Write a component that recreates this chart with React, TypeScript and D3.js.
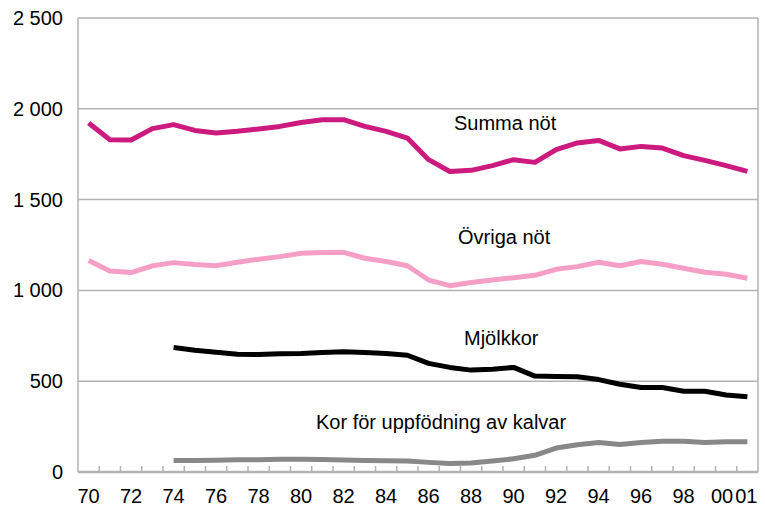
import React from "react";
import * as d3 from "d3";

// years 1970–2001
const years = d3.range(1970, 2002);
const tickYears = [1970, 1972, 1974, 1976, 1978, 1980, 1982, 1984, 1986, 1988, 1990, 1992, 1994, 1996, 1998, 2000, 2001];
const yTicks = [0, 500, 1000, 1500, 2000, 2500];

// Summa nöt, 1970–2001
const summaNot = [
  1922, 1830, 1828, 1891, 1913, 1881, 1867, 1876, 1889, 1903,
  1925, 1940, 1940, 1903, 1876, 1839, 1720, 1655, 1661, 1687,
  1720, 1705, 1775, 1812, 1826, 1779, 1793, 1784, 1742, 1716,
  1687, 1655,
];

// Övriga nöt, 1970–2001
const ovrigaNot = [
  1164, 1107, 1098, 1135, 1153, 1142, 1136, 1155, 1172, 1186,
  1205, 1209, 1209, 1177, 1159, 1136, 1057, 1026, 1043, 1057,
  1070, 1083, 1116, 1131, 1155, 1136, 1159, 1144, 1122, 1100,
  1089, 1067,
];

// Mjölkkor, 1974–2001
const mjolkkor = [
  686, 671, 660, 649, 647, 651, 653, 658, 662, 658,
  653, 643, 598, 576, 561, 566, 576, 528, 526, 524,
  509, 483, 465, 465, 445, 445, 424, 415,
];

// Kor för uppfödning av kalvar, 1974–2001
const korKalvar = [
  64, 63, 65, 67, 68, 70, 70, 69, 66, 64,
  62, 60, 53, 47, 49, 60, 73, 92, 132, 150,
  162, 152, 162, 169, 169, 162, 166, 166,
];

const W = 765;
const H = 506;
const left = 78;
const right = 758;
const top = 18;
const bottom = 472;
const font = "'Liberation Sans', Arial, Helvetica, sans-serif";

const App = () => {
  const x = d3.scaleBand<number>().domain(years).range([left, right]).padding(0);
  const cx = (yr: number) => (x(yr) as number) + x.bandwidth() / 2;
  const y = d3.scaleLinear().domain([0, 2500]).range([bottom, top]);

  const line = d3.line<[number, number]>()
    .x((d) => cx(d[0]))
    .y((d) => y(d[1]));

  const series = [
    { values: summaNot, start: 1970, color: "#cc1a7e" },
    { values: ovrigaNot, start: 1970, color: "#f59fc6" },
    { values: mjolkkor, start: 1974, color: "#000000" },
    { values: korKalvar, start: 1974, color: "#888888" },
  ];

  const labels = [
    { text: "Summa nöt", x: 454, y: 130 },
    { text: "Övriga nöt", x: 458, y: 244 },
    { text: "Mjölkkor", x: 464, y: 345 },
    { text: "Kor för uppfödning av kalvar", x: 316, y: 429 },
  ];

  const fmt = (v: number) => (v >= 1000 ? `${Math.floor(v / 1000)} ${String(v % 1000).padStart(3, "0")}` : String(v));

  // the last two labels sit close together, nudge them apart a little
  const labelShift = (yr: number) => (yr === 2000 ? -4 : yr === 2001 ? -1 : 0);

  return (
    <svg width={W} height={H} style={{ position: "absolute", left: 0, top: 0 }} fontFamily={font}>
      <rect width={W} height={H} fill="#fff" />

      {/* grid */}
      {yTicks.filter((t) => t > 0).map((t) => (
        <line key={t} x1={left} x2={right} y1={y(t)} y2={y(t)} stroke="#b3b3b3" strokeWidth={1.5} />
      ))}
      <line x1={left} x2={left} y1={top} y2={bottom} stroke="#b3b3b3" strokeWidth={1.5} />
      <line x1={right} x2={right} y1={top} y2={bottom} stroke="#b3b3b3" strokeWidth={1.5} />

      {/* x axis */}
      <line x1={left} x2={right} y1={bottom} y2={bottom} stroke="#b3b3b3" strokeWidth={2.5} />
      {years.slice(1).map((yr) => (
        <line key={yr} x1={x(yr)} x2={x(yr)} y1={bottom} y2={bottom - 6} stroke="#b3b3b3" strokeWidth={1.5} />
      ))}
      {tickYears.map((yr) => (
        <text key={yr} x={cx(yr) + labelShift(yr)} y={503} textAnchor="middle" fontSize={20} fill="#000">
          {String(yr % 100).padStart(2, "0")}
        </text>
      ))}

      {/* y axis labels */}
      {yTicks.map((t) => (
        <text key={t} x={63} y={y(t)} textAnchor="end" dominantBaseline="central" fontSize={20} fill="#000">
          {fmt(t)}
        </text>
      ))}

      {/* lines */}
      {series.map((s, i) => (
        <path
          key={i}
          d={line(s.values.map((v, j) => [s.start + j, v] as [number, number])) || ""}
          fill="none"
          stroke={s.color}
          strokeWidth={5}
          strokeLinejoin="round"
        />
      ))}

      {labels.map((l) => (
        <text key={l.text} x={l.x} y={l.y} fontSize={20} fill="#000">
          {l.text}
        </text>
      ))}
    </svg>
  );
};

export default App;
